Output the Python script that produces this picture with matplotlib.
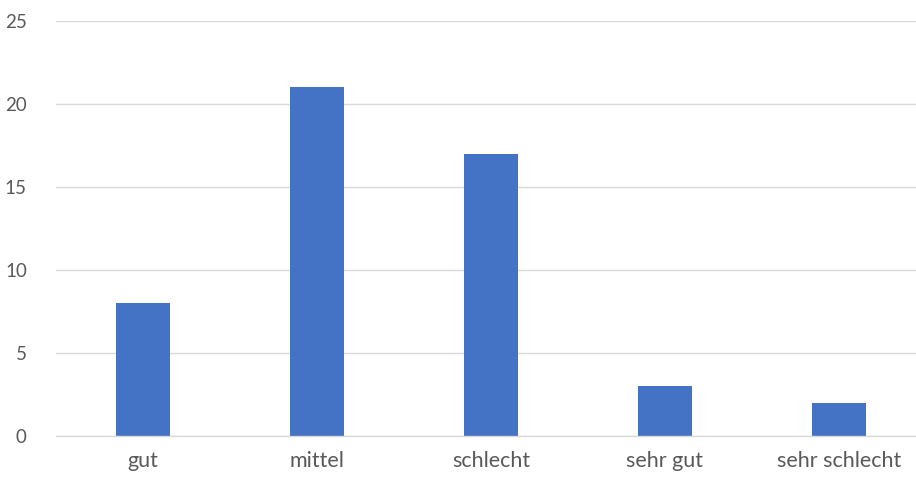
import matplotlib
matplotlib.use("Agg")
import matplotlib.pyplot as plt

categories = ["gut", "mittel", "schlecht", "sehr gut", "sehr schlecht"]
counts = [8, 21, 17, 3, 2]
y_ticks = [0, 5, 10, 15, 20, 25]

W, H = 916, 484
fig = plt.figure(figsize=(W / 100, H / 100), dpi=100)
plt.rcParams["font.family"] = ["Lato", "DejaVu Sans"]

# plot area in pixels: left 56, right 926 (runs past the canvas edge), y 0 at 436, 25 at 21
left, right = 56, 926
bottom, top = 436, 21
ax = fig.add_axes([left / W, (H - bottom) / H, (right - left) / W, (bottom - top) / H])

x = range(len(categories))
ax.bar(x, counts, width=0.316, color="#4472C4", zorder=3)

ax.set_xlim(-0.5, len(categories) - 0.5)
ax.set_ylim(0, 25)
ax.set_yticks(y_ticks)
ax.set_xticks(list(x))
ax.set_xticklabels(categories)

ax.grid(axis="y", color="#D9D9D9", linewidth=1, zorder=0)
for s in ["top", "right", "left"]:
    ax.spines[s].set_visible(False)
ax.spines["bottom"].set_color("#D9D9D9")
ax.spines["bottom"].set_linewidth(1)
ax.spines["bottom"].set_zorder(4)

ax.tick_params(axis="both", length=0, colors="#595959")
ax.tick_params(axis="y", labelsize=13.5, pad=21)
ax.tick_params(axis="x", labelsize=15.5, pad=11)

fig.savefig("out.png", dpi=100)
